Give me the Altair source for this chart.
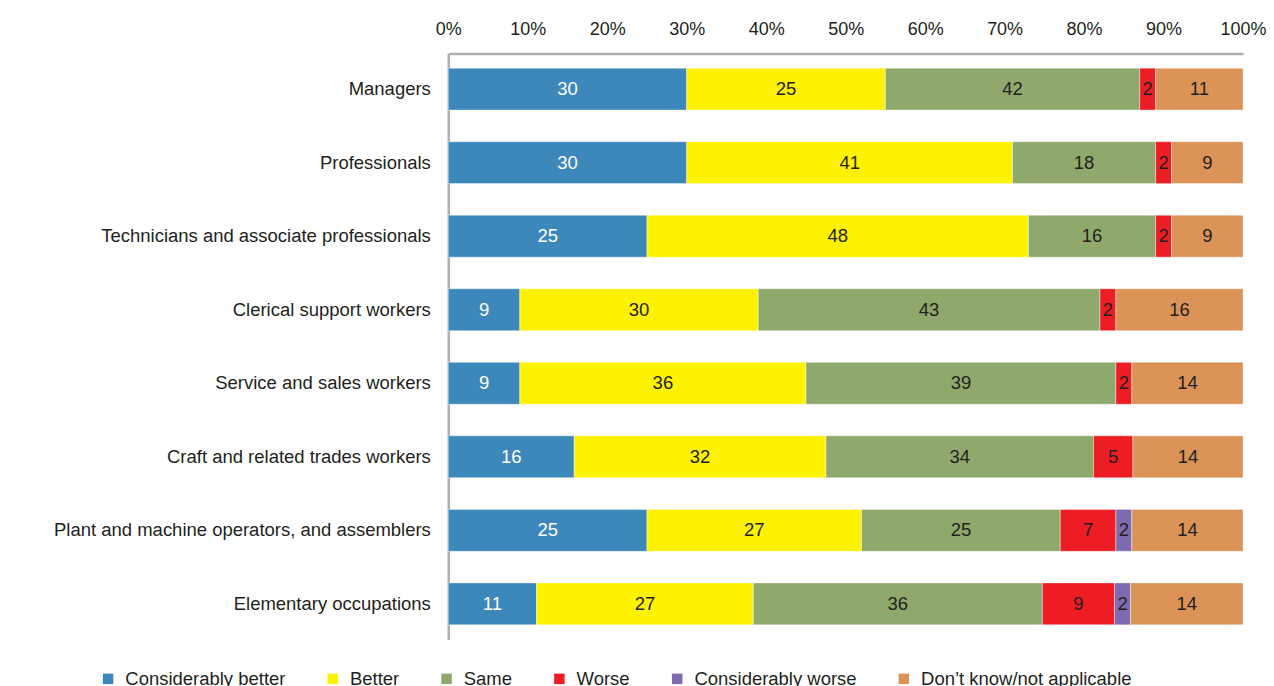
import altair as alt
import pandas as pd

categories = [
    "Managers",
    "Professionals",
    "Technicians and associate professionals",
    "Clerical support workers",
    "Service and sales workers",
    "Craft and related trades workers",
    "Plant and machine operators, and assemblers",
    "Elementary occupations",
]
series = ["Considerably better", "Better", "Same", "Worse",
          "Considerably worse", "Don\u2019t know/not applicable"]
colors = ["#3D88BA", "#FFF200", "#8FA86B", "#EE1D24", "#7E6AAE", "#DC9357"]

# printed labels
considerably_better = [30, 30, 25, 9, 9, 16, 25, 11]
better = [25, 41, 48, 30, 36, 32, 27, 27]
same = [42, 18, 16, 43, 39, 34, 25, 36]
worse = [2, 2, 2, 2, 2, 5, 7, 9]
considerably_worse = [0, 0, 0, 0, 0, 0, 2, 2]
dont_know = [11, 9, 9, 16, 14, 14, 14, 14]
# segment width of "Same" as drawn (Managers bar is drawn at ~32 although labelled 42)
same_drawn = [32, 18, 16, 43, 39, 34, 25, 36]

labels = [considerably_better, better, same, worse, considerably_worse, dont_know]
widths = [considerably_better, better, same_drawn, worse, considerably_worse, dont_know]

rows = []
for i, c in enumerate(categories):
    for j, s in enumerate(series):
        rows.append({"category": c, "series": s, "order": j,
                     "value": widths[j][i], "label": labels[j][i]})
df = pd.DataFrame(rows)

FONT = "Liberation Sans"
FS = 18.5
TXT = "#231f20"

base = alt.Chart(df).transform_filter(alt.datum.value > 0).transform_stack(
    stack="value", groupby=["category"], as_=["x0", "x1"],
    offset="normalize", sort=[alt.SortField("order")]
).transform_calculate(mid="(datum.x0 + datum.x1) / 2")

y_enc = alt.Y("category:N", sort=categories, title=None,
              scale=alt.Scale(paddingInner=0.43, paddingOuter=0.2),
              axis=alt.Axis(labelFontSize=FS, labelColor=TXT, labelPadding=18,
                            labelLimit=600, ticks=False, domainColor="#b0b0b0",
                            domainWidth=2.5, labelFont=FONT))

bars = base.mark_bar(stroke="#ffffff", strokeWidth=0.8, strokeOpacity=0.5).encode(
    x=alt.X("x0:Q", title=None,
            scale=alt.Scale(domain=[0, 1], nice=False),
            axis=alt.Axis(orient="top", format=".0%",
                          values=[0, 0.1, 0.2, 0.3, 0.4, 0.5, 0.6, 0.7, 0.8, 0.9, 1.0],
                          labelFontSize=18, labelColor=TXT, labelPadding=15,
                          labelFlush=False, labelOverlap=False,
                          ticks=False, grid=False, domainColor="#b0b0b0",
                          domainWidth=2.5, labelFont=FONT)),
    x2="x1:Q",
    y=y_enc,
    color=alt.Color("series:N", sort=series,
                    scale=alt.Scale(domain=series, range=colors),
                    legend=alt.Legend(title=None, orient="none", direction="horizontal",
                                      columns=6, legendX=-350, legendY=617,
                                      symbolType="square", symbolSize=110,
                                      symbolStrokeWidth=0, labelFontSize=FS,
                                      labelColor=TXT, labelOffset=8,
                                      columnPadding=38, labelLimit=400,
                                      labelFont=FONT)),
)

texts = base.mark_text(fontSize=FS, font=FONT, align="center",
                       baseline="middle").encode(
    x="mid:Q",
    y=alt.Y("category:N", sort=categories),
    text="label:Q",
    color=alt.condition(alt.datum.series == "Considerably better",
                        alt.value("#ffffff"), alt.value(TXT)),
)

chart = (bars + texts).properties(
    width=796, height=587,
    autosize=alt.AutoSizeParams(type="none"),
    padding={"left": 441, "top": 45, "right": 23, "bottom": 46},
).configure_view(stroke=None)

chart.save("out.html", embed_options={"renderer": "svg", "actions": False})
